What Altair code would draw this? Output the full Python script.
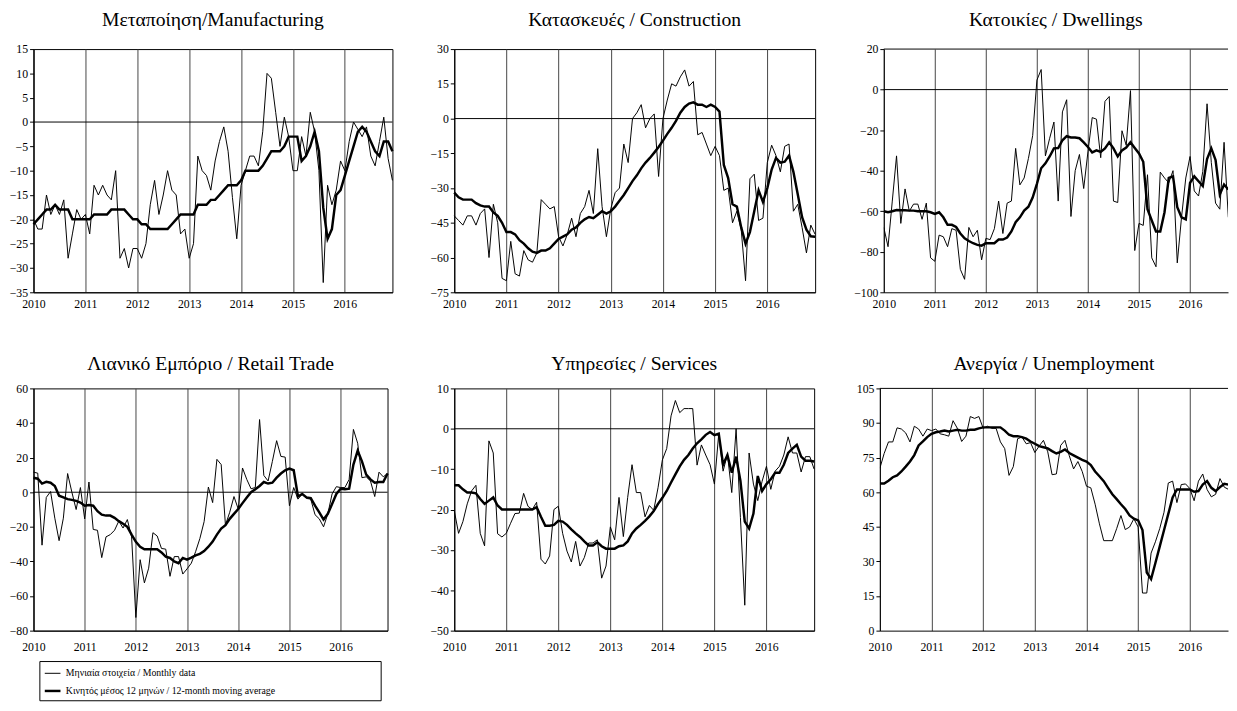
import altair as alt
import pandas as pd

FONT = "Liberation Serif"
LBL_M = "Μηνιαία στοιχεία / Monthly data"
LBL_MA = "Κινητός μέσος 12 μηνών / 12-month moving average"

# ---- data (monthly, Jan 2010 = index 0) ----
manu_m = [-20, -22, -22, -15, -19, -17, -19, -16, -28, -23, -18, -20,
          -19, -23, -13, -15, -13, -15, -16, -10, -28, -26, -30, -26,
          -26, -28, -25, -17, -12, -19, -15, -10, -14, -15, -23, -22,
          -28, -25, -7, -10, -11, -14, -8, -4, -1, -6, -15.5, -24,
          -13, -10, -7, -7, -9, -2, 10, 9, 2, -5, 1, -3,
          -10, -10, -3, -7, 2, -2, -10, -33, -13, -17, -14, -8,
          -10, -4, 0, -1.5, -3, -1, -7, -9, -4, 1, -7.5, -12]
manu_ma = [-21, -20, -19, -18, -18, -17, -18, -18, -18, -20, -20, -20,
           -20, -20, -19, -19, -19, -19, -18, -18, -18, -18, -19, -20,
           -20, -21, -21, -22, -22, -22, -22, -22, -21, -20, -19, -19,
           -19, -19, -17, -17, -17, -16, -16, -15, -14, -13, -13, -13,
           -12, -10, -10, -10, -10, -9, -7.5, -6, -6, -6, -5, -3,
           -3, -3, -8, -7, -5, -2, -6, -17.6, -24, -22, -15, -14,
           -11, -8, -5, -2, -1, -2, -4, -6, -7, -4, -4, -6]

cons_m = [-42, -44, -46, -42, -42, -46, -41, -39, -60, -37, -45, -69,
          -70, -53, -67, -68, -57, -61, -62, -58, -35, -37, -39, -38,
          -51, -55, -50, -43, -51, -41, -38, -31, -41, -13, -38, -51,
          -39, -32, -30, -11, -19, 0, 2.5, 6, -4, 0, 2, -25,
          0, 8, 15, 14, 18, 21, 14, 16, -7, -6, -11, -16,
          -12, -16, -31, -30, -45, -40, -48, -70, -26, -24, -44, -43,
          -19, -11.5, -16, -23, -12, -11, -40, -37, -47, -58, -46, -50]
cons_ma = [-32, -34, -35, -35, -35, -36.5, -37.5, -38, -38, -40.5, -42, -45,
           -49, -49, -50, -52.5, -54, -56, -57.5, -58, -57, -57, -56, -54,
           -52, -51, -50, -48, -47, -45, -43.5, -42.5, -43, -41.5, -40, -41,
           -40, -38, -35.5, -33, -30, -27, -24.5, -21.5, -19, -17, -14.7, -12.3,
           -9.5, -6.6, -4, -1, 2.5, 5, 6.5, 7, 6, 6, 5, 6,
           5, 3, -20, -25.7, -37, -38, -47, -54, -49, -40, -31, -36,
           -30, -22, -17, -19, -18.6, -16, -23, -32.7, -42.6, -48, -50.8, -51]

dwel_m = [-68, -77.5, -55, -32.7, -66, -49, -60, -56.5, -56.5, -64, -56, -83,
          -84.7, -71.8, -72.6, -77.5, -68.6, -69.4, -88.7, -93.6, -68, -72.6, -69.4, -84,
          -73.4, -74, -68.6, -55, -71, -56, -55, -29, -47, -43.6, -34, -22.7,
          4.7, 9.9, -32.7, -24, -16, -55, -11, -5, -62.6, -40, -32, -48.8,
          -30.7, -13.8, -14.6, -33.6, -5.8, -3.4, -55, -55.7, -20.3, -27.5, -0.5, -79.4,
          -66, -67, -42, -83, -87.4, -40.7, -43.6, -46, -40, -85.5, -63, -43.6,
          -33, -50, -52.5, -40.4, -7, -36, -56, -59, -26, -63]
dwel_ma = [-60, -60.5, -60, -59.4, -59.5, -59.5, -59.7, -59.7, -60, -60, -60, -60.5,
           -61.3, -60.5, -63, -66.7, -66.7, -67.8, -71, -73.4, -74.7, -75.8, -76.6, -77,
           -75.8, -75.8, -75.8, -74, -74, -73, -70, -65.4, -63, -59.7, -57.8, -53.3,
           -46.5, -38.8, -36.4, -33, -29, -28.8, -25, -23, -23.6, -23.6, -24, -26,
           -28.3, -31, -30, -30.7, -29, -26, -29, -33, -30, -28.6, -26, -28.8,
           -31.5, -35.6, -59, -64.6, -70, -70, -60.5, -43.6, -42.8, -58, -63, -64,
           -46, -42.8, -45.2, -47.6, -34.3, -29, -34.7, -51.7, -46.8, -49.3]

reta_m = [11.6, 11, -30.6, -3, 0.4, -15, -28, -15, 10.8, 0, -10, 2.7,
          -15.4, 5.9, -21.5, -22, -37.8, -25.8, -24.5, -22, -16.7, -20.7, -15.8, -25.8,
          -72.4, -39, -52.4, -43.9, -23.4, -25.3, -32.5, -32.9, -48.6, -37.2, -37.2, -47.3,
          -44.3, -41, -34.4, -26.8, -17, 3, -6, 19, 16, -19, -11.6, -2.5,
          -9.7, 14, 7.4, 2, 2.7, 42, 9.7, 6.5, 17.8, 29.8, 20.7, 20.3,
          -7.8, 2.7, -4, -1, -3.6, -4, -13, -15.4, -20, -12.5, -1, 3.2,
          2.7, 2.7, 7.4, 36.3, 28.3, 8.4, 8.9, 6.5, -2.5, 11.6, 8.9, 10.8]
reta_ma = [8.4, 7.8, 5, 6, 5.5, 3.6, -2, -3, -4, -4.4, -5, -6,
           -7.8, -7.4, -7.8, -11, -13, -13.5, -13.5, -14.8, -16.7, -18.2, -20, -24.5,
           -28.7, -31.5, -33, -33, -33, -33, -34.8, -37.2, -38, -40, -41, -38,
           -39, -37.8, -36.5, -35.6, -34, -31.5, -28.5, -24.5, -21, -19, -15.4, -12.5,
           -9.7, -6.3, -3, 0, 1.7, 3.6, 5.9, 5, 5.5, 8.4, 10.8, 12.7,
           13.7, 12.7, -2.5, -1, -3, -3.4, -7.8, -11.6, -15.8, -12.5, -6.8, -1,
           2, 1.7, 2, 16, 24, 17.8, 10.2, 7.4, 5.5, 5.9, 5.9, 10.8]

serv_m = [-20.2, -25.9, -23, -18.6, -15.4, -14, -25.9, -29, -3, -6, -26, -26.8,
          -25.9, -23.4, -21, -20.9, -16, -19.2, -20, -18.2, -32.3, -33.5, -31.5, -20,
          -19.2, -25.9, -30.3, -33, -27.9, -34, -31.9, -28.3, -28.3, -27.5, -37, -34,
          -24.3, -27.5, -17, -26.7, -17, -8.9, -15.8, -15.8, -21.8, -19, -20.2, -14.6,
          -7.7, -4.9, 3.2, 7, 4, 5, 5, 5, -9, -4, -6.5, -8.9,
          -13.7, -1.2, -10.5, -6.3, -15.8, 0, -22, -43.7, -6, -13.7, -17.8, -13,
          -9.3, -15, -10.5, -9.3, -6.5, -2, -6, -6, -10.7, -6.9, -6.9, -10]
serv_ma = [-14, -14, -15, -15.8, -15.8, -16, -17.4, -18.6, -17.8, -17, -19, -20,
           -20, -20, -20, -20, -20, -20, -20, -19.4, -21.8, -24, -24, -23.8,
           -22.8, -23, -23.8, -24.9, -25.9, -26.8, -27.9, -28.9, -28.9, -28.1, -29.1, -29.7,
           -29.7, -29.7, -29.1, -28.9, -27.9, -25.9, -24.7, -23.8, -22.8, -21.7, -20.4, -18.6,
           -17.1, -15.4, -13.3, -11.3, -9.3, -7.7, -6.5, -4.9, -3.6, -2.6, -1.5, -0.8,
           -1.6, -1.2, -8.9, -6.5, -10.9, -6.9, -12.9, -23, -24.7, -21, -11.7, -15.4,
           -13.7, -12.5, -10.9, -10.9, -8.9, -6, -4.9, -4, -6.9, -7.9, -7.9, -8.1]

unem_m = [70.4, 76.8, 81.8, 81.8, 87.9, 87.4, 85.7, 81.8, 88.6, 87.4, 84.3, 87.4,
          86.7, 87.4, 85.3, 84.9, 84.3, 91, 87.7, 82, 84.3, 92.8, 92, 92.8,
          87.7, 88.6, 87.7, 87.7, 81.8, 78.9, 67.3, 71.1, 83.2, 83.9, 81, 81.5,
          77.2, 80, 82.5, 77.5, 67.6, 67.9, 80.3, 82.5, 75.8, 70.1, 73.3, 69,
          62.6, 61.9, 54.8, 46.3, 39, 39, 39, 44.2, 49.9, 43.8, 44.9, 48.5,
          44.9, 16.3, 16.3, 33.6, 38.5, 44.2, 51.3, 64, 64.8, 55.5, 63.3, 63.6,
          61.6, 56.3, 64.8, 67.9, 61.2, 58, 59.1, 65.9, 62.2, 61.2]
unem_ma = [63.8, 63.8, 65, 66.5, 67.3, 69, 71.1, 73.3, 76.1, 80.3, 82, 83.9,
           85.3, 86, 86.3, 86.7, 86.3, 86.7, 87.1, 86.7, 86.7, 87.1, 87.1, 87.7,
           88.1, 88.1, 88.1, 88.1, 88.1, 86.7, 84.9, 84.3, 84.3, 83.9, 83.2, 82,
           81, 80, 79.5, 79, 77.8, 76.8, 77.5, 78.5, 77, 76, 75, 74,
           73.3, 71.8, 69, 66.9, 64.8, 61.9, 59.1, 57, 54.8, 52.7, 49.9, 48.5,
           47.8, 43.6, 25.2, 22.4, 29.3, 36.4, 43.5, 50.6, 57.7, 61.2, 61.2, 61.2,
           61.2, 60.2, 60.5, 63.3, 64.8, 61.9, 60.5, 62.2, 63.6, 63.3]

YEAR_TICKS = [0, 12, 24, 36, 48, 60, 72]


def panel(title, monthly, ma, ydom, ystep, w, h, xmax, ext, toff, lpad,
          crop=False, zero=True, legend=False):
    df = pd.DataFrame({
        "m": list(range(len(monthly))) + list(range(len(ma))),
        "v": monthly + ma,
        "s": [LBL_M] * len(monthly) + [LBL_MA] * len(ma),
    })
    xscale = alt.Scale(domain=[0, xmax], nice=False, zero=False)
    xaxis = alt.Axis(values=YEAR_TICKS, labelExpr="'' + (2010 + datum.value / 12)",
                     grid=True, gridColor="#444444", gridWidth=1, ticks=False,
                     labelFlush=False, labelOverlap=False, title=None, labelPadding=lpad,
                     domainColor="black")
    yscale = alt.Scale(domain=list(ydom), nice=False, zero=False)
    yaxis = alt.Axis(values=list(range(ydom[0], ydom[1] + 1, ystep)), grid=False,
                     tickSize=4, tickColor="black", title=None, labelOverlap=False,
                     minExtent=ext, maxExtent=ext, labelPadding=2,
                     domainColor="black")
    x = alt.X("m:Q", scale=xscale, axis=xaxis)
    y = alt.Y("v:Q", scale=yscale, axis=yaxis)
    layers = []
    if zero:
        layers.append(alt.Chart(pd.DataFrame({"v": [0]})).mark_rule(
            color="black", strokeWidth=1).encode(y=y))
    if legend:
        sw = alt.StrokeWidth(
            "s:N", scale=alt.Scale(domain=[LBL_M, LBL_MA], range=[1, 2.5]),
            legend=alt.Legend(orient="none", legendX=6, legendY=624,
                              title="\u00a0", titleOrient="right", titlePadding=103,
                              titleFontSize=8,
                              symbolType="stroke",
                              symbolSize=256, symbolStrokeColor="black",
                              labelFont=FONT, labelFontSize=10, labelLimit=0,
                              labelColor="black", strokeColor="black",
                              fillColor="white", padding=4, rowPadding=3,
                              labelOffset=4))
        layers.append(alt.Chart(df).mark_line(color="black", clip=crop).encode(
            x=x, y=y, strokeWidth=sw, detail="s:N"))
    else:
        layers.append(alt.Chart(df[df.s == LBL_M]).mark_line(
            color="black", strokeWidth=1, clip=crop).encode(x=x, y=y))
        layers.append(alt.Chart(df[df.s == LBL_MA]).mark_line(
            color="black", strokeWidth=2.5, clip=crop).encode(x=x, y=y))
    props = dict(width=w, height=h,
                 title=alt.TitleParams(title, frame="group", anchor="middle",
                                       baseline="bottom", offset=toff))
    if crop:
        layers.append(alt.Chart(alt.Data(values=[{}])).mark_rule(
            color="black", strokeWidth=1).encode(
            x=alt.value(0), x2=alt.value(w), y=alt.value(0)))
        props["view"] = alt.ViewBackground(stroke="transparent")
    return alt.layer(*layers).properties(**props)


row1 = alt.hconcat(
    panel("Μεταποίηση/Manufacturing", manu_m, manu_ma, (-35, 15), 5, 366, 248, 83, 24, -6, 7),
    panel("Κατασκευές / Construction", cons_m, cons_ma, (-75, 30), 15, 368, 248, 83, 36, -6, 7),
    panel("Κατοικίες / Dwellings", dwel_m, dwel_ma, (-100, 20), 20, 351, 248, 80.93, 43, -6, 7,
          crop=True),
    spacing=20,
)
row2 = alt.hconcat(
    panel("Λιανικό Εμπόριο / Retail Trade", reta_m, reta_ma, (-80, 60), 20, 361, 247, 83, 24,
          -11.5, 11, legend=True),
    panel("Υπηρεσίες / Services", serv_m, serv_ma, (-50, 10), 10, 367, 247, 83, 41, -11.5, 11),
    panel("Ανεργία / Unemployment", unem_m, unem_ma, (0, 105), 15, 355, 247, 80.87, 40, -11.5,
          11, crop=True, zero=False),
    spacing=20,
)

PAD = {"left": 0, "top": -6, "right": 0, "bottom": 0}
chart = alt.vconcat(row1, row2, spacing=44).properties(
    padding=PAD, background="white"
).configure(
    padding=PAD
).configure_view(
    stroke="black", strokeWidth=1
).configure_axis(
    labelFont=FONT, labelFontSize=12, labelColor="black", domainColor="black",
    domainWidth=1
).configure_title(
    font=FONT, fontSize=20, fontWeight="normal", color="black"
)

chart.save("out.html", embed_options={"renderer": "svg", "actions": False})
